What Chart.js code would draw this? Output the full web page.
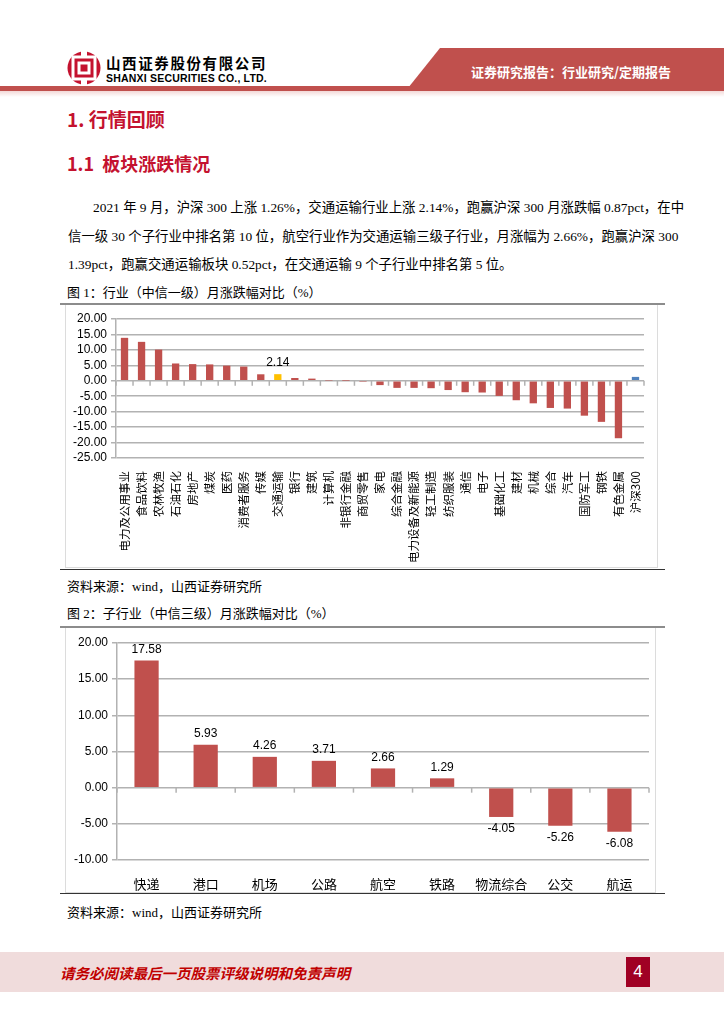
<!DOCTYPE html>
<html>
<head>
<meta charset="utf-8">
<script src="https://cdn.jsdelivr.net/npm/chart.js@4.4.1/dist/chart.umd.min.js"></script>
<style>
  body { margin: 0; width: 724px; height: 1024px; position: relative; overflow: hidden; background: #fff;
         font-family: "Liberation Serif", "Noto Sans CJK SC", serif; color: #000; }
  .abs { position: absolute; }
  .redline { left: 0; top: 86px; width: 724px; height: 5px; background: #c0504d; }
  .fade { left: 0; top: 91px; width: 724px; height: 6px; background: linear-gradient(#f3d9d8, #fff); }
  .cname { left: 106px; top: 52px; font: bold 14.5px "Noto Sans CJK SC", sans-serif; letter-spacing: 1.6px; }
  .ename { left: 106px; top: 72px; font: bold 10.5px "Liberation Sans", sans-serif; letter-spacing: 0.2px; }
  .btext { left: 471px; top: 62px; font: bold 13px "Noto Sans CJK SC", sans-serif; color: #fff; }
  .h1 { left: 67px; top: 105px; font: bold 19px "Noto Sans CJK SC", sans-serif; color: #c4122f; }
  .h2 { left: 67px; top: 150px; font: bold 18px "Noto Sans CJK SC", sans-serif; color: #c4122f; }
  .p { left: 68px; width: 589px; font-size: 13.4px; text-align: justify; text-align-last: justify; white-space: nowrap; }
  .p.last { text-align-last: left; }
  .cap { left: 67px; font-size: 13px; }
  .topline { left: 60px; width: 605px; height: 2px; background: #8c8c8c; }
  .botline { left: 60px; width: 605px; height: 1px; background: #333; }
  .box { border: 1px solid #dcdcdc; border-top: none; box-sizing: border-box; }
  .footer { left: 0; top: 952px; width: 724px; height: 40px; background: #f0dcdc; }
  .ftext { left: 60px; top: 962px; font: bold 14.5px "Noto Sans CJK SC", serif; color: #c00000; font-style: italic; }
  .pnum { left: 626px; top: 957px; width: 24px; height: 30px; background: #a00024; color: #fff;
          font: 17px "Liberation Sans", sans-serif; text-align: center; line-height: 30px; }
</style>
</head>
<body>
<svg class="abs" style="left:0;top:40px" width="724" height="60">
  <polygon points="440,8 724,8 724,48 408,48" fill="#c0504d"/>
  <g transform="translate(84,28)">
    <circle r="16.5" fill="#c4122f"/>
    <rect x="-11" y="-11" width="22" height="22" fill="none" stroke="#fff" stroke-width="3"/>
    <rect x="-5" y="-5" width="10" height="10" fill="none" stroke="#fff" stroke-width="3"/>
    <rect x="-3" y="-18" width="6" height="8" fill="#fff"/>
    <rect x="-3" y="10" width="6" height="8" fill="#fff"/>
  </g>
</svg>
<div class="abs redline"></div>
<div class="abs fade"></div>
<div class="abs cname">山西证券股份有限公司</div>
<div class="abs ename">SHANXI SECURITIES CO., LTD.</div>
<div class="abs btext">证券研究报告：行业研究/定期报告</div>

<div class="abs h1">1. 行情回顾</div>
<div class="abs h2">1.1&nbsp; 板块涨跌情况</div>

<div class="abs p" style="top:196px;left:93px;width:564px">2021 年 9 月，沪深 300 上涨 1.26%，交通运输行业上涨 2.14%，跑赢沪深 300 月涨跌幅 0.87pct，在中</div>
<div class="abs p" style="top:225px">信一级 30 个子行业中排名第 10 位，航空行业作为交通运输三级子行业，月涨幅为 2.66%，跑赢沪深 300</div>
<div class="abs p last" style="top:253px">1.39pct，跑赢交通运输板块 0.52pct，在交通运输 9 个子行业中排名第 5 位。</div>

<div class="abs cap" style="top:282px">图 1：行业（中信一级）月涨跌幅对比（%）</div>
<div class="abs topline" style="top:303px"></div>
<div class="abs box" style="left:65px;top:305px;width:593px;height:263px">
  <canvas id="c1" width="591" height="262"></canvas>
</div>
<div class="abs botline" style="top:569px"></div>
<div class="abs cap" style="top:576px">资料来源：wind，山西证券研究所</div>

<div class="abs cap" style="top:603px">图 2：子行业（中信三级）月涨跌幅对比（%）</div>
<div class="abs topline" style="top:626px"></div>
<div class="abs box" style="left:65px;top:628px;width:591px;height:265px">
  <canvas id="c2" width="589" height="264"></canvas>
</div>
<div class="abs botline" style="top:893px"></div>
<div class="abs cap" style="top:902px">资料来源：wind，山西证券研究所</div>

<div class="abs footer"></div>
<div class="abs ftext">请务必阅读最后一页股票评级说明和免责声明</div>
<div class="abs pnum">4</div>

<script>
// 图1：中信一级行业月涨跌幅（%）
var industryLabels = ['电力及公用事业', '食品饮料', '农林牧渔', '石油石化', '房地产', '煤炭', '医药', '消费者服务',
  '传媒', '交通运输', '银行', '建筑', '计算机', '非银行金融', '商贸零售', '家电', '综合金融', '电力设备及新能源',
  '轻工制造', '纺织服装', '通信', '电子', '基础化工', '建材', '机械', '综合', '汽车', '国防军工', '钢铁', '有色金属', '沪深300'];
var industryValues = [13.9, 12.6, 10.1, 5.6, 5.4, 5.3, 4.9, 4.6,
  2.1, 2.14, 0.9, 0.7, 0.1, 0.05, -0.4, -1.4, -2.3, -2.3,
  -2.4, -3.0, -3.7, -3.8, -4.9, -6.3, -7.3, -8.8, -9.0, -11.3, -13.3, -18.6, 1.26];
var industryTicks = [20, 15, 10, 5, 0, -5, -10, -15, -20, -25];

// 图2：交通运输子行业（中信三级）月涨跌幅（%）
var subLabels = ['快递', '港口', '机场', '公路', '航空', '铁路', '物流综合', '公交', '航运'];
var subValues = [17.58, 5.93, 4.26, 3.71, 2.66, 1.29, -4.05, -5.26, -6.08];
var subTicks = [20, 15, 10, 5, 0, -5, -10];

var RED = '#c0504d', GOLD = '#ffc000', BLUE = '#4f81bd';
var GRID = '#b2b2b2';

var industryColors = industryLabels.map(function (l) {
  if (l === '交通运输') return GOLD;
  if (l === '沪深300') return BLUE;
  return RED;
});

// small tick marks on the zero line, between categories
var zeroTicks = {
  id: 'zeroTicks',
  afterDatasetsDraw: function (chart) {
    var xs = chart.scales.x, ys = chart.scales.y, ctx = chart.ctx;
    var y0 = ys.getPixelForValue(0);
    var n = chart.data.labels.length;
    ctx.save();
    ctx.strokeStyle = GRID;
    ctx.lineWidth = 1.5;
    for (var i = 0; i <= n; i++) {
      var x;
      if (i === 0) x = xs.left;
      else if (i === n) x = xs.right;
      else x = (xs.getPixelForTick(i - 1) + xs.getPixelForTick(i)) / 2;
      ctx.beginPath();
      ctx.moveTo(x, y0);
      ctx.lineTo(x, y0 + 5);
      ctx.stroke();
    }
    ctx.restore();
  }
};

// value labels above/below bars
var barLabels = {
  id: 'barLabels',
  afterDatasetsDraw: function (chart, args, opts) {
    var ctx = chart.ctx;
    var meta = chart.getDatasetMeta(0);
    var data = chart.data.datasets[0].data;
    ctx.save();
    ctx.font = '12px "Liberation Sans", sans-serif';
    ctx.fillStyle = '#000';
    ctx.textAlign = 'center';
    ctx.textBaseline = 'middle';
    meta.data.forEach(function (bar, i) {
      if (opts.only && opts.only.indexOf(i) < 0) return;
      var v = data[i];
      var y = v >= 0 ? bar.y - 11 : bar.y + 12;
      ctx.fillText(v.toFixed(2), bar.x, y);
    });
    ctx.restore();
  }
};

function yScale(ticks, width) {
  return {
    min: ticks[ticks.length - 1],
    max: ticks[0],
    afterFit: function (s) { s.width = width; },
    border: { display: true, color: GRID, width: 1.5 },
    grid: { color: GRID, lineWidth: 1.5, tickLength: 5, drawTicks: true },
    ticks: {
      stepSize: ticks[0] - ticks[1],
      autoSkip: false,
      color: '#000',
      padding: 4,
      font: { family: '"Liberation Sans", sans-serif', size: 12 },
      callback: function (v) { return Number(v).toFixed(2); }
    }
  };
}

new Chart(document.getElementById('c1'), {
  type: 'bar',
  data: {
    labels: industryLabels,
    datasets: [{ data: industryValues, backgroundColor: industryColors, barPercentage: 0.43, categoryPercentage: 1 }]
  },
  options: {
    responsive: false,
    animation: false,
    layout: { padding: { top: 14, right: 13, left: 0, bottom: 0 } },
    plugins: { legend: { display: false }, tooltip: { enabled: false }, barLabels: { only: [9] } },
    scales: {
      x: {
        afterFit: function (s) { s.height = 109; },
        border: { display: false },
        grid: { display: false },
        ticks: {
          autoSkip: false, minRotation: 90, maxRotation: 90, padding: 5, color: '#000',
          font: { family: '"Noto Sans CJK SC", sans-serif', size: 11.5 }
        }
      },
      y: yScale(industryTicks, 50)
    }
  },
  plugins: [zeroTicks, barLabels]
});

new Chart(document.getElementById('c2'), {
  type: 'bar',
  data: {
    labels: subLabels,
    datasets: [{ data: subValues, backgroundColor: RED, barPercentage: 0.41, categoryPercentage: 1 }]
  },
  options: {
    responsive: false,
    animation: false,
    layout: { padding: { top: 15, right: 6, left: 0, bottom: 0 } },
    plugins: { legend: { display: false }, tooltip: { enabled: false }, barLabels: {} },
    scales: {
      x: {
        afterFit: function (s) { s.height = 32; },
        border: { display: false },
        grid: { display: false },
        ticks: {
          autoSkip: false, maxRotation: 0, padding: 8, color: '#000',
          font: { family: '"Noto Sans CJK SC", sans-serif', size: 13 }
        }
      },
      y: yScale(subTicks, 51)
    }
  },
  plugins: [zeroTicks, barLabels]
});
</script>
</body>
</html>
